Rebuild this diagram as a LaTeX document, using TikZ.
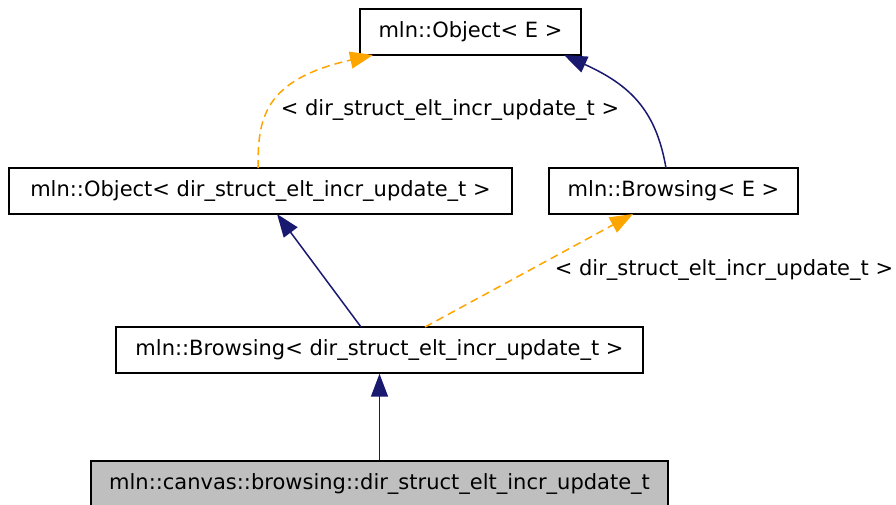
\documentclass[tikz,border=0pt]{standalone}
\usepackage{fontspec}
\setmainfont{DejaVu Sans}
\usetikzlibrary{arrows.meta}
\definecolor{navy}{HTML}{191970}
\definecolor{orng}{HTML}{FFA500}
\definecolor{gfill}{HTML}{BFBFBF}
\begin{document}
\begin{tikzpicture}[x=1pt,y=-1pt,
  box/.style={draw=black,line width=1.4pt,fill=white,inner sep=0pt,minimum height=46pt,font=\fontsize{21}{24}\selectfont},
  lbl/.style={font=\fontsize{21}{24}\selectfont,inner sep=0pt},
  inh/.style={draw=navy,line width=1.5pt,-{Triangle[length=23pt,width=17pt]}},
  tpl/.style={draw=orng,line width=1.5pt,dash pattern=on 8pt off 5pt,-{Triangle[length=23pt,width=17pt]}}]
\useasboundingbox (0,0) rectangle (896,504);
\node[box,minimum width=221pt] (oe) at (470.5,32) {mln::Object< E >};
\node[box,minimum width=503pt] (od) at (260.5,191) {mln::Object< dir\_struct\_elt\_incr\_update\_t >};
\node[box,minimum width=249pt] (be) at (673.5,191) {mln::Browsing< E >};
\node[box,minimum width=527pt] (bd) at (379.5,350) {mln::Browsing< dir\_struct\_elt\_incr\_update\_t >};
\node[box,minimum width=577pt,fill=gfill] (cv) at (379.5,484) {mln::canvas::browsing::dir\_struct\_elt\_incr\_update\_t};
\node[lbl] (l1) at (450,110) {< dir\_struct\_elt\_incr\_update\_t >};
\node[lbl] (l2) at (724,270) {< dir\_struct\_elt\_incr\_update\_t >};
\coordinate (odt) at (258,168);
\coordinate (oeb1) at (373,55);
\coordinate (bet) at (666,168);
\coordinate (oeb2) at (564,55);
\coordinate (bds1) at (361,327);
\coordinate (odb) at (277,214);
\coordinate (bds2) at (425,327);
\coordinate (beb) at (633,214);
\draw[tpl] (odt) .. controls (258,120) and (262,80) .. (oeb1);
\draw[inh] (bet) .. controls (656,110) and (630,85) .. (oeb2);
\draw[inh] (bds1) -- (odb);
\draw[tpl] (bds2) -- (beb);
\draw[inh] (cv.north) -- (bd.south);
\end{tikzpicture}
\end{document}
